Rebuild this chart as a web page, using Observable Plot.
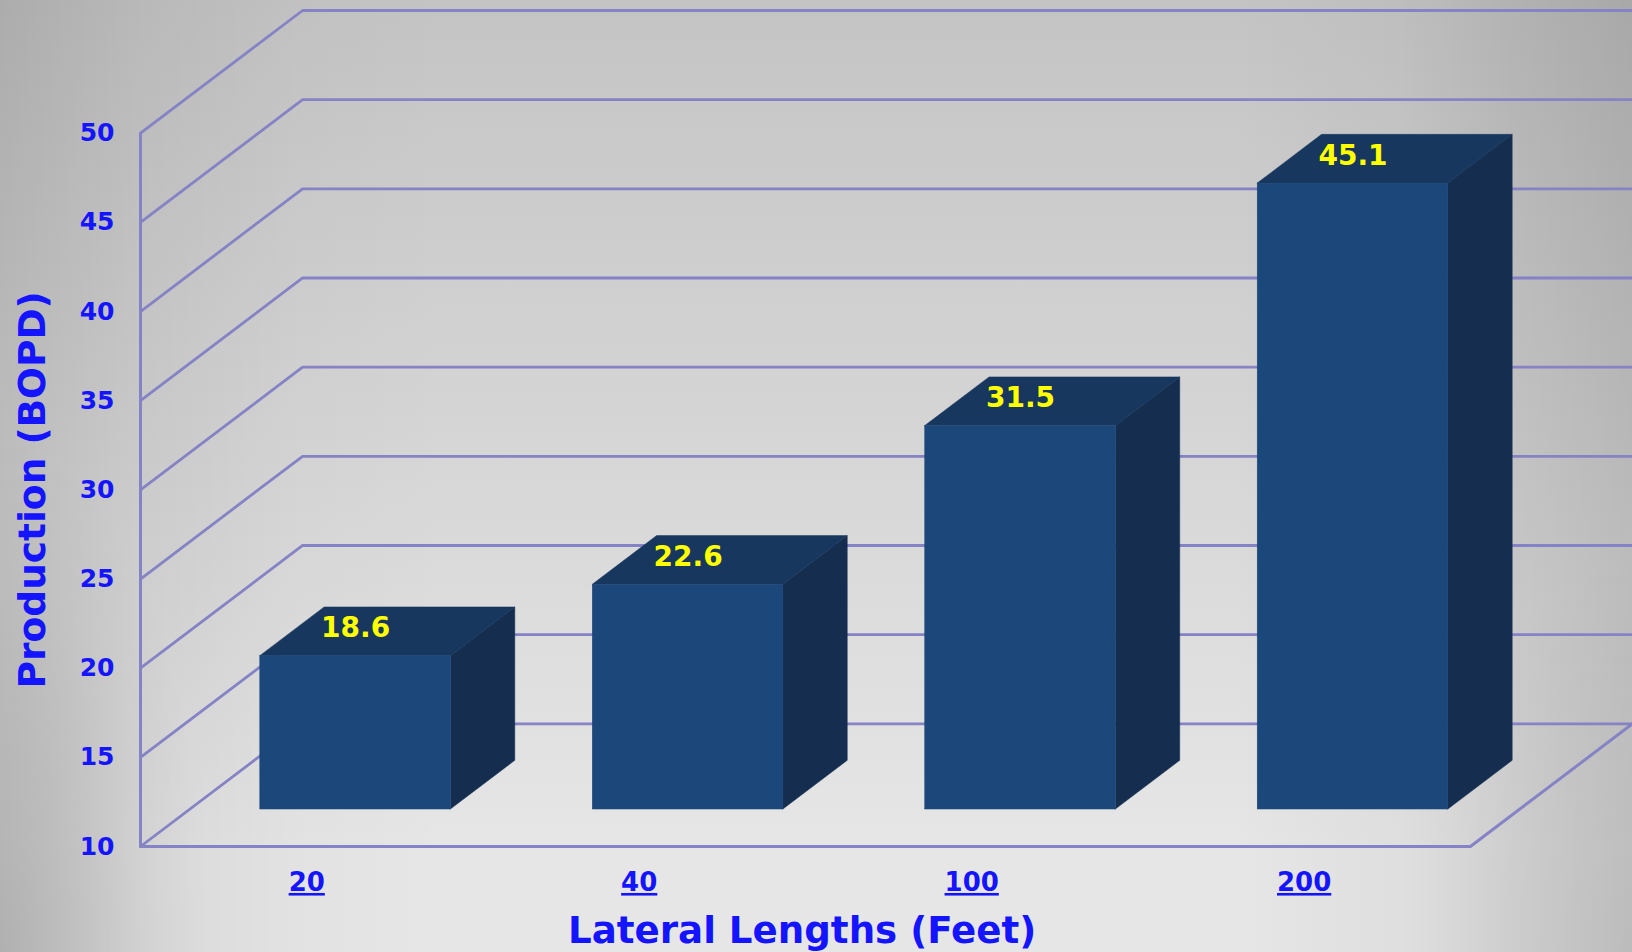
<!DOCTYPE html>
<html>
<head>
<meta charset="utf-8">
<script src="https://cdn.jsdelivr.net/npm/d3@7"></script>
<script src="https://cdn.jsdelivr.net/npm/@observablehq/plot@0.6"></script>
<style>
  html, body { margin: 0; padding: 0; overflow: hidden; }
  body {
    width: 1632px; height: 952px;
    background-color: #e6e6e6;
    background-image:
      radial-gradient(ellipse 210px 520px at 0 100%, rgba(0,0,0,.13) 0, rgba(0,0,0,.08) 40%, rgba(0,0,0,.025) 75%, rgba(0,0,0,0) 100%),
      radial-gradient(ellipse 200px 400px at 100% 100%, rgba(0,0,0,.05) 0, rgba(0,0,0,0) 100%),
      linear-gradient(to right, rgba(0,0,0,.12) 0, rgba(0,0,0,.06) 140px, rgba(0,0,0,.015) 300px, rgba(0,0,0,0) 450px),
      linear-gradient(to left, rgba(0,0,0,.14) 0, rgba(0,0,0,.09) 120px, rgba(0,0,0,.03) 232px, rgba(0,0,0,0) 400px),
      linear-gradient(to bottom, rgba(0,0,0,.148) 0, rgba(0,0,0,0) 850px);
  }
  svg { display: block; background: transparent !important; }
</style>
</head>
<body>
<script>
// Average production by lateral length
const categories = ["20", "40", "100", "200"];
const production = [18.6, 22.6, 31.5, 45.1];
const yTicks = [10, 15, 20, 25, 30, 35, 40, 45, 50];

// Oblique 3D: how far the back wall sits from the front plane, in axis units
const wallX = 0.4876;
const wallY = 6.88;
const barWidth = 0.5734;
const depthFront = 0.3015;
const depthBack = 0.6985;

const blue = "#1414ff";
const gridColor = "#8582c6";

const shift = (x, y, depth) => ({ x: x + depth * wallX, y: y + depth * wallY });

const bars = production.map((value, i) => {
  const left = i + (1 - barWidth) / 2;
  const right = left + barWidth;
  return { i, value, left, right, label: value.toFixed(1) };
});

// Wall and floor lines: one polyline per tick
const gridLines = yTicks.flatMap((v) => [
  { v, ...shift(0, v, 0) },
  { v, ...shift(0, v, 1) },
  { v, ...shift(4, v, 1) }
]);
const floorEdge = [shift(0, 10, 0), shift(4, 10, 0), shift(4, 10, 1)];

const sidePoints = bars.flatMap((b) => [depthFront, depthBack].map((d) => ({
  i: b.i,
  x: b.right + d * wallX,
  y1: 10 + d * wallY,
  y2: b.value + d * wallY
})));
const topPoints = bars.flatMap((b) => [depthFront, depthBack].map((d) => ({
  i: b.i,
  y: b.value + d * wallY,
  x1: b.left + d * wallX,
  x2: b.right + d * wallX
})));

const plot = Plot.plot({
  width: 1632,
  height: 952,
  marginLeft: 140,
  marginRight: 0,
  marginTop: 10,
  marginBottom: 106,
  x: { type: "linear", domain: [0, 4 + wallX] },
  y: { type: "linear", domain: [10, 50 + wallY] },
  style: { fontFamily: "'DejaVu Sans', sans-serif", fontWeight: "bold", background: "transparent" },
  marks: [
    Plot.line(gridLines, { x: "x", y: "y", z: "v", stroke: gridColor, strokeWidth: 2.8 }),
    Plot.ruleX([0], { y1: 10, y2: 50, stroke: gridColor, strokeWidth: 3 }),
    Plot.line(floorEdge, { x: "x", y: "y", stroke: gridColor, strokeWidth: 3 }),

    Plot.axisY({
      ticks: yTicks, tickSize: 0, tickPadding: 26, label: null,
      fontSize: 25, color: blue, anchor: "left"
    }),
    Plot.axisX({
      ticks: categories.map((c, i) => i + 0.5),
      tickFormat: (d) => categories[d - 0.5],
      tickSize: 0, tickPadding: 26, label: null, fontSize: 26, color: blue
    }),

    Plot.areaY(sidePoints, { x: "x", y1: "y1", y2: "y2", z: "i", fill: "#152e50", stroke: "#152e50", strokeWidth: 0.5 }),
    Plot.areaX(topPoints, { y: "y", x1: "x1", x2: "x2", z: "i", fill: "#17375e", stroke: "#17375e", strokeWidth: 0.5 }),
    Plot.rect(bars, {
      x1: (d) => d.left + depthFront * wallX,
      x2: (d) => d.right + depthFront * wallX,
      y1: () => 10 + depthFront * wallY,
      y2: (d) => d.value + depthFront * wallY,
      fill: "#1c477a",
      stroke: "#1c477a",
      strokeWidth: 0.5
    }),
    Plot.text(bars, {
      x: (d) => d.i + 0.5 + depthFront * wallX,
      y: (d) => d.value + depthFront * wallY,
      text: "label",
      dy: -28,
      fill: "#ffff00",
      fontSize: 28,
      ariaLabel: "bar value"
    }),

    Plot.text(["Production (BOPD)"], {
      frameAnchor: "left", textAnchor: "middle", dx: -108, y: () => 30,
      rotate: -90, fill: blue, fontSize: 37.5
    }),
    Plot.text(["Lateral Lengths (Feet)"], {
      frameAnchor: "bottom", dy: 96, x: () => 1.99,
      fill: blue, fontSize: 37.2
    })
  ]
});

d3.select(plot).selectAll('[aria-label="x-axis tick label"] text')
  .attr("text-decoration", "underline");
d3.select(plot).selectAll('[aria-label="bar value"] text')
  .attr("letter-spacing", 2);

document.body.appendChild(plot);
</script>
</body>
</html>
